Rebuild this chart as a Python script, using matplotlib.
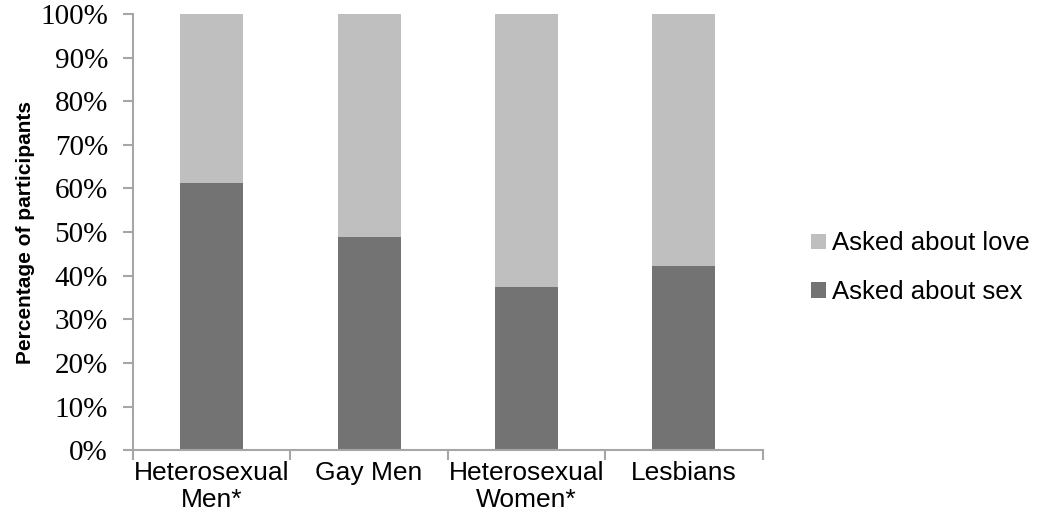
import numpy as np
import matplotlib.pyplot as plt

# participant groups and the share of each question type (%)
groups = ["Heterosexual\nMen*", "Gay Men", "Heterosexual\nWomen*", "Lesbians"]
asked_sex = [61.3, 48.9, 37.5, 42.2]
asked_love = [100 - v for v in asked_sex]

dark = "#737373"
light = "#BFBFBF"
axis_grey = "#A6A6A6"

fig = plt.figure(figsize=(10.39, 5.29), dpi=100)
ax = fig.add_axes([0.128, 0.149, 0.606, 0.8245])

x = np.arange(len(groups))
ax.bar(x, asked_sex, width=0.4, color=dark, label="Asked about sex", zorder=2)
ax.bar(x, asked_love, width=0.4, bottom=asked_sex, color=light,
       label="Asked about love", zorder=2)

ax.set_xlim(-0.5, len(groups) - 0.5)
ax.set_ylim(0, 100)

# y axis: percent ticks in a serif face
ax.set_yticks(np.arange(0, 101, 10))
ax.set_yticklabels([f"{v}%" for v in range(0, 101, 10)],
                   family="Liberation Serif", fontsize=21)
ax.tick_params(axis="y", direction="out", length=7, width=1.5,
               color=axis_grey, pad=11)

# x axis: labels at bar centres, tick marks between categories
ax.set_xticks(x)
ax.set_xticklabels(groups, family="Liberation Sans", fontsize=19,
                   linespacing=1.15)
ax.tick_params(axis="x", which="major", length=0, pad=8)
ax.set_xticks(np.arange(-0.5, len(groups), 1.0), minor=True)
ax.tick_params(axis="x", which="minor", direction="out", length=7,
               width=1.5, color=axis_grey)

for side in ["top", "right"]:
    ax.spines[side].set_visible(False)
for side in ["left", "bottom"]:
    ax.spines[side].set_color(axis_grey)
    ax.spines[side].set_linewidth(1.5)

ax.set_ylabel("Percentage of participants", family="Liberation Sans",
              fontsize=15, fontweight="bold")
ax.yaxis.set_label_coords(-0.155, 0.5)

handles, labels = ax.get_legend_handles_labels()
fig.legend(handles[::-1], labels[::-1], loc="center left",
           bbox_to_anchor=(0.781, 0.494), frameon=False,
           prop={"family": "Liberation Sans", "size": 18.5},
           handlelength=0.55, handleheight=0.55, handletextpad=0.25,
           labelspacing=0.95, borderaxespad=0, borderpad=0)

fig.savefig("out.png", dpi=100)
